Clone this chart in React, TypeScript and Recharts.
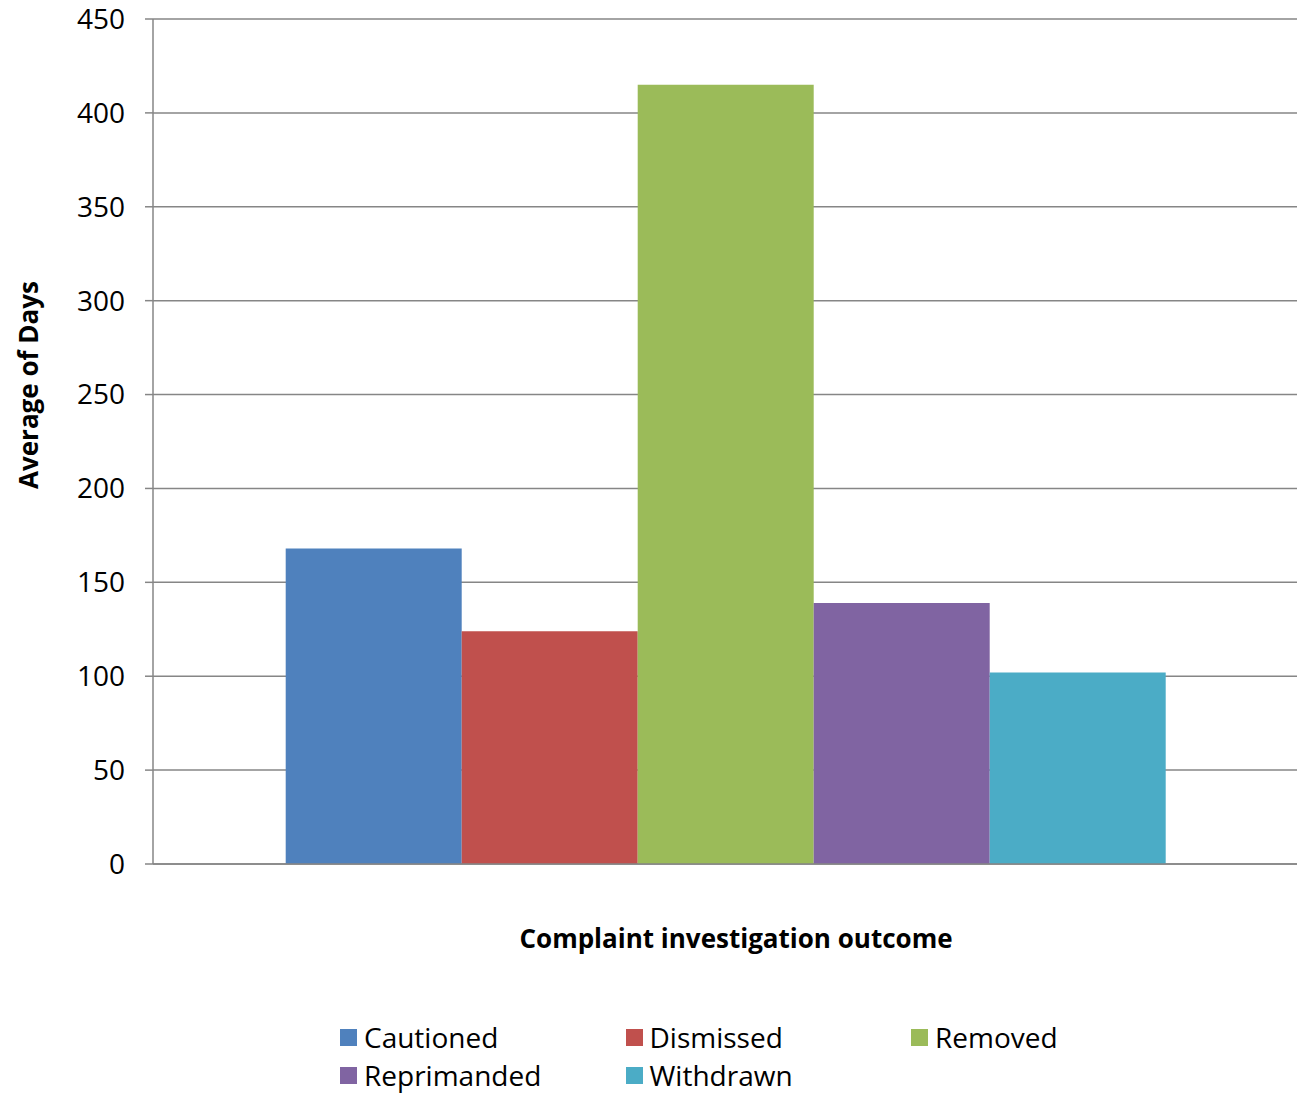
import { BarChart, Bar, XAxis, YAxis, CartesianGrid } from "recharts";

const seriesNames = ["Cautioned", "Dismissed", "Removed", "Reprimanded", "Withdrawn"];
const seriesValues = [168, 124, 415, 139, 102];
const seriesColors = ["#4F81BD", "#C0504D", "#9BBB59", "#8064A2", "#4BACC6"];
const yTicks = [0, 50, 100, 150, 200, 250, 300, 350, 400, 450];

const row: Record<string, string | number> = { name: "All outcomes" };
seriesNames.forEach((n, i) => {
  row[n] = seriesValues[i];
});
const data = [row];

const FONT = "'Open Sans', sans-serif";
const AXIS = "#868686";

// legend laid out in 3 columns like the original
function LegendGrid() {
  return (
    <div style={{ position: "absolute", left: 0, top: 1020, width: 1309, height: 80, fontFamily: FONT }}>
      {seriesNames.map((n, i) => {
        const col = i % 3;
        const r = Math.floor(i / 3);
        return (
          <div
            key={n}
            style={{
              position: "absolute",
              left: 340 + col * 285.5,
              top: r * 38,
              display: "flex",
              alignItems: "center",
              fontSize: 28,
              color: "#000",
              lineHeight: "34px",
              whiteSpace: "nowrap",
            }}
          >
            <span style={{ display: "inline-block", width: 17, height: 17, background: seriesColors[i], marginRight: 7 }} />
            {n}
          </div>
        );
      })}
    </div>
  );
}

export default function App() {
  return (
    <div style={{ position: "absolute", left: 0, top: 0, width: 1309, height: 1093, background: "#fff" }}>
      <BarChart
        width={1309}
        height={1093}
        data={data}
        margin={{ top: 19, right: 12, left: 0, bottom: 228 }}
        barCategoryGap="11.6%"
        barGap={0}
      >
        <CartesianGrid stroke={AXIS} strokeWidth={1.5} vertical={false} />
        <XAxis
          dataKey="name"
          tick={false}
          tickLine={false}
          axisLine={{ stroke: AXIS, strokeWidth: 1.5 }}
          height={1}
        />
        <YAxis
          width={153}
          domain={[0, 450]}
          ticks={yTicks}
          interval={0}
          tickSize={8}
          tickMargin={20}
          axisLine={{ stroke: AXIS, strokeWidth: 1.5 }}
          tickLine={{ stroke: AXIS, strokeWidth: 1.5 }}
          tick={{ fill: "#000", fontSize: 28, fontFamily: FONT }}
        />
        {seriesNames.map((n, i) => (
          <Bar key={n} dataKey={n} fill={seriesColors[i]} isAnimationActive={false} />
        ))}
        <text
          x={28}
          y={385}
          transform="rotate(-90 28 385)"
          textAnchor="middle"
          dominantBaseline="central"
          fontFamily={FONT}
          fontSize={26}
          fontWeight="bold"
          fill="#000"
        >
          Average of Days
        </text>
        <text
          x={736}
          y={938}
          textAnchor="middle"
          dominantBaseline="central"
          fontFamily={FONT}
          fontSize={26}
          fontWeight="bold"
          fill="#000"
        >
          Complaint investigation outcome
        </text>
      </BarChart>
      <LegendGrid />
    </div>
  );
}
